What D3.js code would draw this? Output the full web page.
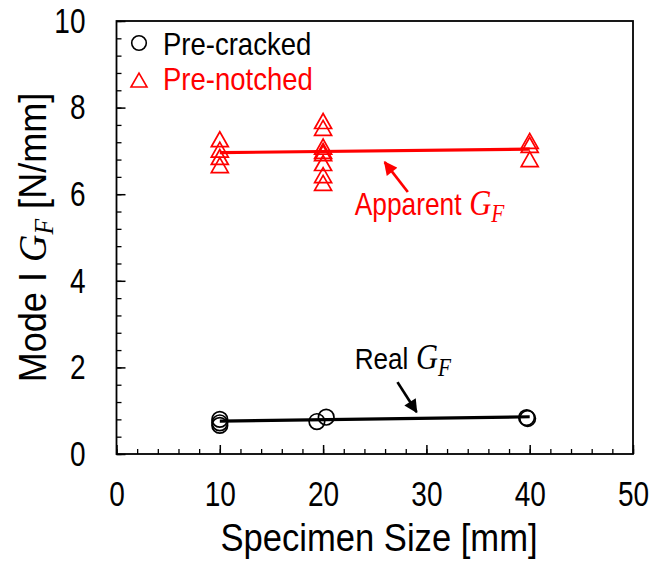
<!DOCTYPE html>
<html><head><meta charset="utf-8">
<script src="https://cdn.jsdelivr.net/npm/d3@7"></script>
<style>body{margin:0;background:#fff}</style></head>
<body>
<svg id="c" width="652" height="565"></svg>
<script>
// ---- data ----
const xTicks = [0, 10, 20, 30, 40, 50];
const yTicks = [0, 2, 4, 6, 8, 10];
const notchedX = [10, 10, 10, 10, 20, 20, 20, 20, 20, 20, 20, 20, 40, 40, 40];
const notchedY = [7.27, 7.03, 6.86, 6.67, 7.69, 7.53, 7.10, 7.00, 6.95, 6.72, 6.44, 6.26, 7.23, 7.14, 6.81];
const crackedX = [10, 10, 10, 19.4, 20.3, 39.7, 39.8];
const crackedY = [0.80, 0.72, 0.66, 0.75, 0.85, 0.84, 0.82];
const fitX = [10, 40];
const notchedFit = [6.96, 7.04];
const crackedFit = [0.76, 0.86];
const legendLabels = ["Pre-cracked", "Pre-notched"];

const RED = "#ff0000";
const svg = d3.select("#c");
const L = 116.5, R = 633, T = 21, B = 454;
const x = d3.scaleLinear().domain([0, 50]).range([L, R]);
const y = d3.scaleLinear().domain([0, 10]).range([B, T]);
const FONT = "'Liberation Sans', Arial, sans-serif";
const MATH = "'Liberation Serif', 'DejaVu Serif', serif";

// minor ticks
svg.append("g").attr("transform", `translate(0,${B})`)
  .call(d3.axisBottom(x).tickValues(d3.range(0, 50.01, 2)).tickSize(-5).tickFormat(""))
  .call(g => g.select(".domain").remove())
  .selectAll("line").attr("stroke-width", 1.3);
svg.append("g").attr("transform", `translate(${L},0)`)
  .call(d3.axisLeft(y).tickValues(d3.range(0, 10.01, 0.4)).tickSize(-5).tickFormat(""))
  .call(g => g.select(".domain").remove())
  .selectAll("line").attr("stroke-width", 1.3);

// major axes
const xa = svg.append("g").attr("transform", `translate(0,${B})`)
  .call(d3.axisBottom(x).tickValues(xTicks).tickSize(-9).tickPadding(27).tickFormat(d3.format("d")));
const ya = svg.append("g").attr("transform", `translate(${L},0)`)
  .call(d3.axisLeft(y).tickValues(yTicks).tickSize(-9).tickPadding(30).tickFormat(d3.format("d")));
[xa, ya].forEach(a => {
  a.select(".domain").remove();
  a.selectAll("line").attr("stroke-width", 1.5);
  a.selectAll("text").attr("font-family", FONT).attr("font-size", 35).attr("fill", "#000");
});
xa.selectAll("text").attr("transform", "scale(0.8,1)");
ya.selectAll("text").attr("x", 0).attr("transform", "translate(-31,0) scale(0.8,1)");

// frame
svg.append("rect").attr("x", L).attr("y", T).attr("width", R - L).attr("height", B - T)
  .attr("fill", "none").attr("stroke", "#000").attr("stroke-width", 1.8);

// fit lines
const line = d3.line().x(d => x(d[0])).y(d => y(d[1]));
svg.append("path").attr("d", line(fitX.map((v, i) => [v, notchedFit[i]])))
  .attr("stroke", RED).attr("stroke-width", 3.2).attr("fill", "none");
svg.append("path").attr("d", line(fitX.map((v, i) => [v, crackedFit[i]])))
  .attr("stroke", "#000").attr("stroke-width", 3.2).attr("fill", "none");

// markers
const tri = (cx, cy, w, h) => `M${cx - w / 2},${cy + h / 2}L${cx},${cy - h / 2}L${cx + w / 2},${cy + h / 2}Z`;
svg.append("g").selectAll("path").data(notchedX.map((v, i) => [v, notchedY[i]])).join("path")
  .attr("d", d => tri(x(d[0]), y(d[1]), 17, 15))
  .attr("fill", "none").attr("stroke", RED).attr("stroke-width", 1.7);
svg.append("g").selectAll("circle").data(crackedX.map((v, i) => [v, crackedY[i]])).join("circle")
  .attr("cx", d => x(d[0])).attr("cy", d => y(d[1])).attr("r", 7.8)
  .attr("fill", "none").attr("stroke", "#000").attr("stroke-width", 1.7);

// helper for squeezed text
function sText(px, py, size, fill, factor, rot) {
  const g = svg.append("g").attr("transform", `translate(${px},${py})${rot ? " rotate(" + rot + ")" : ""} scale(${factor},1)`);
  return g.append("text").attr("font-family", FONT).attr("font-size", size).attr("fill", fill);
}

// legend
svg.append("circle").attr("cx", 139).attr("cy", 43).attr("r", 7.3)
  .attr("fill", "none").attr("stroke", "#000").attr("stroke-width", 1.6);
svg.append("path").attr("d", tri(139, 80, 16, 14)).attr("fill", "none").attr("stroke", RED).attr("stroke-width", 1.6);
sText(163, 55, 32, "#000", 0.86).text(legendLabels[0]);
sText(163, 90, 32, RED, 0.86).text(legendLabels[1]);

// axis titles
sText(379, 551, 38, "#000", 0.91).attr("text-anchor", "middle").text("Specimen Size [mm]");
const yt = sText(46, (T + B) / 2, 38, "#000", 0.95, -90).attr("text-anchor", "middle");
yt.append("tspan").text("Mode I ");
yt.append("tspan").attr("font-family", MATH).attr("font-style", "italic").attr("font-size", 40).text("G");
yt.append("tspan").attr("font-family", MATH).attr("font-style", "italic").attr("font-size", 27).attr("dy", 7).text("F");
yt.append("tspan").attr("dy", -7).text(" [N/mm]");

// annotations
function gf(t, size) {
  t.append("tspan").attr("font-family", MATH).attr("font-style", "italic").attr("font-size", size).text(" G");
  t.append("tspan").attr("font-family", MATH).attr("font-style", "italic").attr("font-size", size * 0.7).attr("dy", 7).text("F");
}
const at = sText(x(23.06), y(5.52), 31, RED, 0.85).text("Apparent");
gf(at, 36);
const rt = sText(x(23.06), y(1.96), 30, "#000", 0.87).text("Real");
gf(rt, 35);

const defs = svg.append("defs");
[["ahR", RED], ["ahK", "#000"]].forEach(([id, c]) => {
  defs.append("marker").attr("id", id).attr("viewBox", "0 0 10 10").attr("refX", 9).attr("refY", 5)
    .attr("markerWidth", 5.5).attr("markerHeight", 5).attr("orient", "auto").attr("markerUnits", "strokeWidth")
    .append("path").attr("d", "M0,0L10,5L0,10Z").attr("fill", c);
});
svg.append("line").attr("x1", x(28.2)).attr("y1", y(6.05)).attr("x2", x(25.96)).attr("y2", y(6.74))
  .attr("stroke", RED).attr("stroke-width", 2.7).attr("marker-end", "url(#ahR)");
svg.append("line").attr("x1", x(27.2)).attr("y1", y(1.66)).attr("x2", x(29.05)).attr("y2", y(0.97))
  .attr("stroke", "#000").attr("stroke-width", 2.7).attr("marker-end", "url(#ahK)");
</script>
</body></html>
